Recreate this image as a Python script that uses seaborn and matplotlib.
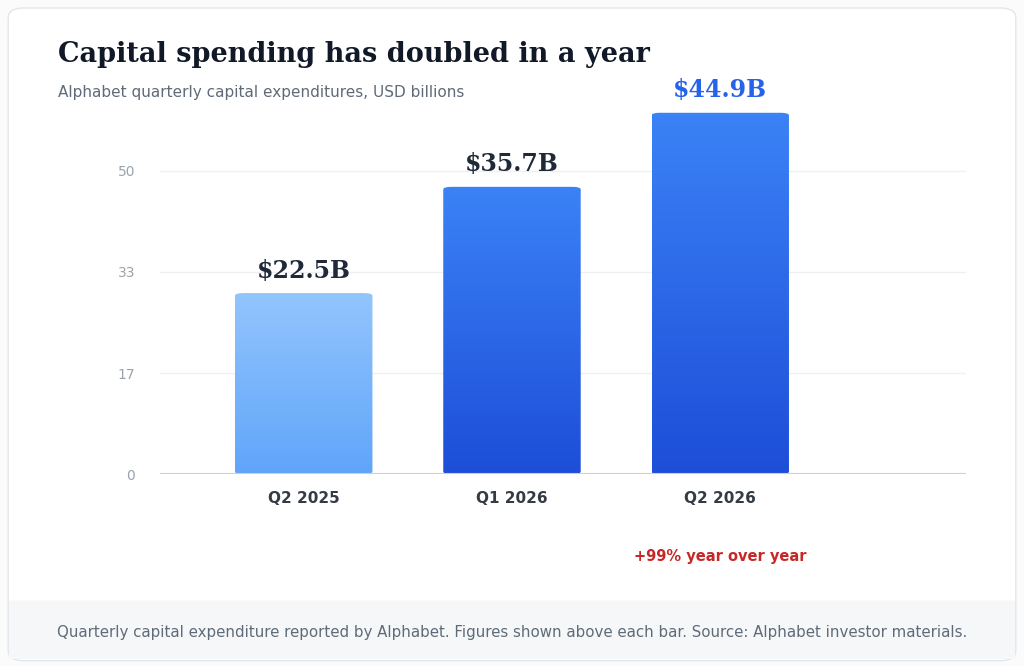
import numpy as np
import matplotlib.pyplot as plt
import seaborn as sns
from matplotlib.patches import FancyBboxPatch, Rectangle

quarters = ['Q2 2025', 'Q1 2026', 'Q2 2026']
capex = [22.5, 35.7, 44.9]
value_labels = ['$22.5B', '$35.7B', '$44.9B']
tick_labels = ['0', '17', '33', '50']


def draw_card(fig):
    # Rounded card border and grey footer band, kept behind the axes
    card = FancyBboxPatch((0.008, 0.008), 0.984, 0.98, boxstyle='round,pad=0,rounding_size=0.015',
                          transform=fig.transFigure, facecolor='white', edgecolor='#e3e6ea', lw=1, zorder=-2)
    fig.patches.append(card)
    footer = Rectangle((0.009, 0.01), 0.982, 0.088, transform=fig.transFigure,
                       facecolor='#f5f7f9', edgecolor='none', zorder=-1)
    fig.patches.append(footer)
    fig.add_artist(plt.Line2D([0.009, 0.991], [0.098, 0.098], color='#e6e9ed', lw=1, zorder=-1))


def gradient_bars(ax, bars, colors):
    # Replace flat bar faces with vertical gradients
    for bar, (top_c, bot_c) in zip(bars, colors):
        x, w, h = bar.get_x(), bar.get_width(), bar.get_height()
        bar.set_visible(False)
        c1 = np.array(plt.matplotlib.colors.to_rgb(top_c))
        c2 = np.array(plt.matplotlib.colors.to_rgb(bot_c))
        grad = np.linspace(0, 1, 100)[:, None, None] * (c2 - c1) + c1
        patch = FancyBboxPatch((x, 0), w, h, boxstyle='round,pad=0,rounding_size=0.04',
                               mutation_aspect=8, facecolor='none', edgecolor='none')
        ax.add_patch(patch)
        im = ax.imshow(grad, extent=[x, x + w, 0, h], aspect='auto', origin='upper', zorder=2)
        im.set_clip_path(patch)


def capex_barplot():
    sns.set_theme(style='white')
    fig = plt.figure(figsize=(10.24, 6.66), dpi=100)
    draw_card(fig)
    ax = fig.add_axes([160 / 1024, 0.288, 806 / 1024, 0.562])
    ax.patch.set_alpha(0)

    sns.barplot(x=quarters, y=capex, ax=ax, width=0.66, color='#3b82f6')
    gradient_bars(ax, ax.patches[:3], [('#93c5fd', '#60a5fa'), ('#3b82f6', '#1d4ed8'), ('#3b82f6', '#1d4ed8')])

    ticks = np.linspace(0, 37.7, 4)
    ax.set_xlim(-0.69, 3.18)
    ax.set_ylim(0, 46.5)
    ax.set_yticks(ticks, tick_labels)
    for t in ticks[1:]:
        ax.axhline(t, color='#eef0f3', lw=1, zorder=0)
    ax.axhline(0, color='#c9d1d9', lw=1.5, zorder=3)
    sns.despine(ax=ax, left=True, bottom=True)
    ax.tick_params(axis='y', length=0, labelsize=10, labelcolor='#9aa3ad', pad=18)
    ax.tick_params(axis='x', length=0, labelsize=11, pad=12)
    for lab in ax.get_xticklabels():
        lab.set_fontweight('bold')
        lab.set_color('#333b45')

    for i, (v, lab) in enumerate(zip(capex, value_labels)):
        ax.text(i, v + 1.3, lab, ha='center', va='bottom', family='DejaVu Serif', fontweight='bold',
                fontsize=17, color='#2563eb' if i == 2 else '#1f2937', zorder=4)

    fig.text(58 / 1024, 1 - 55 / 666, 'Capital spending has doubled in a year', family='DejaVu Serif',
             fontweight='bold', fontsize=19.5, color='#111827', va='center')
    fig.text(58 / 1024, 1 - 93 / 666, 'Alphabet quarterly capital expenditures, USD billions',
             fontsize=11, color='#5f6b78', va='center')
    fig.text(720 / 1024, 1 - 557 / 666, '+99% year over year', ha='center', va='center',
             fontsize=10.5, fontweight='bold', color='#c62828')
    fig.text(0.5, 1 - 633 / 666, 'Quarterly capital expenditure reported by Alphabet. Figures shown above each bar. '
             'Source: Alphabet investor materials.', ha='center', va='center', fontsize=10.8, color='#5f6b78')

    fig.savefig('out.png', dpi=100, facecolor='#fbfbfc')
    plt.close()


def main():
    capex_barplot()


if __name__ == '__main__':
    main()
